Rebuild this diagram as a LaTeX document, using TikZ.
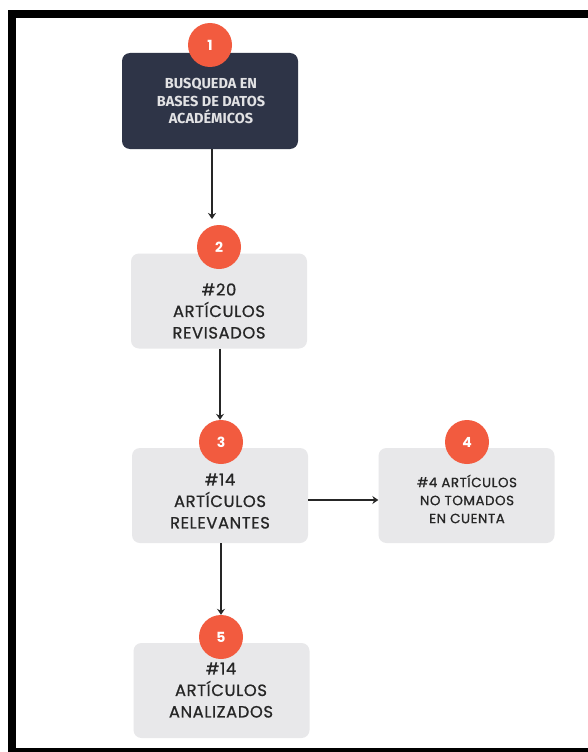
\documentclass[tikz,border=0pt]{standalone}
\usepackage{fontspec}
\setmainfont{Poppins}
\newfontfamily\boxfont[LetterSpace=4,FakeBold=0.9]{Poppins}
\newfontfamily\darkfont{Fira Sans}
\usetikzlibrary{arrows.meta}
\definecolor{darkbox}{HTML}{2E3447}
\definecolor{greybox}{HTML}{E8E8EA}
\definecolor{badge}{HTML}{F25B3F}
\definecolor{darktext}{HTML}{E2E2E4}
\tikzset{
  greyrect/.style={fill=greybox, rounded corners=8pt, draw=none, minimum width=176pt, minimum height=95pt, inner sep=0pt},
  darkrect/.style={fill=darkbox, rounded corners=8pt, draw=none, minimum width=176pt, minimum height=96pt, inner sep=0pt},
  badgenode/.style={circle, fill=badge, minimum size=44pt, inner sep=0pt, text=white, font=\bfseries\fontsize{14}{14}\selectfont},
  bigtext/.style={align=center, font=\boxfont\fontsize{16.3}{21.5}\selectfont, text=black!85},
  smalltext/.style={align=center, font=\boxfont\fontsize{13.4}{18}\selectfont, text=black!85},
  darktxt/.style={align=center, font=\darkfont\bfseries\fontsize{14.5}{17.5}\selectfont, text=darktext},
  conn/.style={draw=black!85, line width=1.8pt, -{Stealth[length=6pt,width=8pt]}}
}
\begin{document}
\begin{tikzpicture}[x=1pt,y=-1pt]
\useasboundingbox (0,0) rectangle (588,752);
\fill[white] (0,0) rectangle (588,752);
% frame
\fill[black] (8,10) rectangle (588,18);
\fill[black] (8,10) rectangle (16,752);
\fill[black] (8,748) rectangle (588,752);
% boxes
\node[darkrect] (b1) at (210,101) {};
\node[greyrect] (b2) at (219,301) {};
\node[greyrect] (b3) at (220,495.5) {};
\node[greyrect] (b4) at (466.5,495.5) {};
\node[greyrect] (b5) at (221.5,690.5) {};
% texts
\node[darktxt] (t1) at (211,101) {BUSQUEDA EN\\BASES DE DATOS\\ACADÉMICOS};
\node[bigtext] (t2) at (219,311) {\#20\\ARTÍCULOS\\REVISADOS};
\node[bigtext] (t3) at (220,501) {\#14\\ARTÍCULOS\\RELEVANTES};
\node[smalltext] (t4) at (467,499) {\#4 ARTÍCULOS\\NO TOMADOS\\EN CUENTA};
\node[bigtext] (t5) at (221,690) {\#14\\ARTÍCULOS\\ANALIZADOS};
% badges
\node[badgenode] (c1) at (210,45) {1};
\node[badgenode] (c2) at (219,247) {2};
\node[badgenode] (c3) at (221,442) {3};
\node[badgenode] (c4) at (467,442) {4};
\node[badgenode] (c5) at (221,637) {5};
% connectors
\coordinate (a1s) at (212,149);
\coordinate (a1e) at (212,219);
\draw[conn] (a1s) -- (a1e);
\draw[conn] (b2.south -| c2.north) ++(1,0) coordinate (a2s) -- (a2s |- c3.north);
\draw[conn] (b3.south -| c5.north) -- (c5.north);
\draw[conn] (b3.east |- 0,500) coordinate (a3s) -- (a3s -| b4.west);
\end{tikzpicture}
\end{document}
